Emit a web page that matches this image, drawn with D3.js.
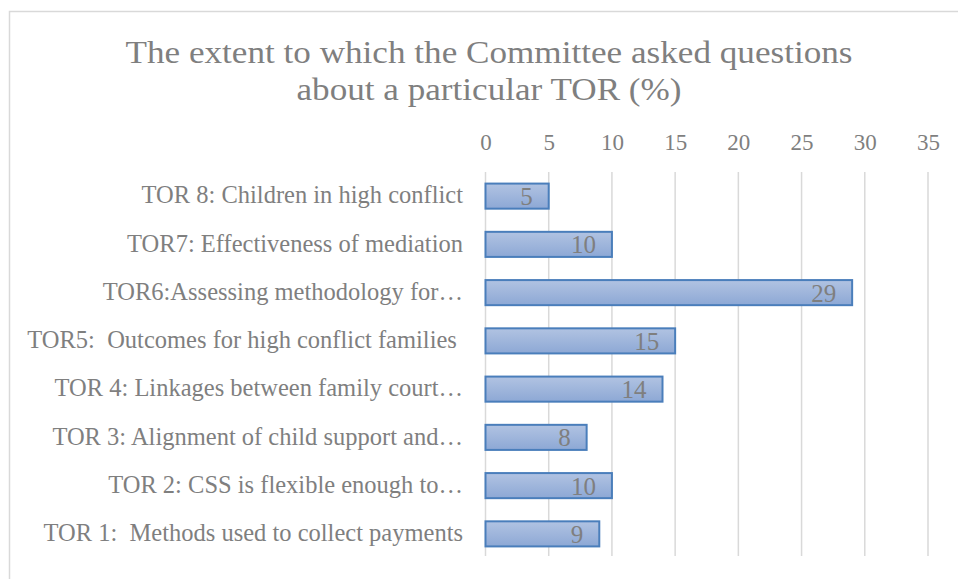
<!DOCTYPE html>
<html>
<head>
<meta charset="utf-8">
<script src="https://cdn.jsdelivr.net/npm/d3@7/dist/d3.min.js"></script>
<style>
  html, body { margin: 0; padding: 0; background: #fff; }
  svg { display: block; }
  text { font-family: "Liberation Serif", "DejaVu Serif", serif; fill: #7f7f7f; }
</style>
</head>
<body>
<svg id="chart" width="958" height="579"></svg>
<script>
// Categories listed top to bottom
const categories = [
  "TOR 8: Children in high conflict",
  "TOR7: Effectiveness of mediation",
  "TOR6:Assessing methodology for\u2026",
  "TOR5:  Outcomes for high conflict families ",
  "TOR 4: Linkages between family court\u2026",
  "TOR 3: Alignment of child support and\u2026",
  "TOR 2: CSS is flexible enough to\u2026",
  "TOR 1:  Methods used to collect payments"
];
const values = [5, 10, 29, 15, 14, 8, 10, 9];
const tickValues = [0, 5, 10, 15, 20, 25, 30, 35];
const titleLines = [
  "The extent to which the Committee asked questions",
  "about a particular TOR (%)"
];
const titleWidths = [727, 385];

const svg = d3.select("#chart");

// Outer chart frame
svg.append("rect")
  .attr("x", 9.5).attr("y", 11.5)
  .attr("width", 1000).attr("height", 1000)
  .attr("fill", "none").attr("stroke", "#d9d9d9").attr("stroke-width", 1.5);

// Bar gradient
const defs = svg.append("defs");
const grad = defs.append("linearGradient")
  .attr("id", "barFill").attr("x1", 0).attr("y1", 0).attr("x2", 0).attr("y2", 1);
grad.append("stop").attr("offset", "0%").attr("stop-color", "#b1c3e2");
grad.append("stop").attr("offset", "100%").attr("stop-color", "#8da8d5");

// Title (condensed serif)
svg.append("g").selectAll("text")
  .data(titleLines)
  .join("text")
  .attr("x", 489)
  .attr("y", (d, i) => 63 + i * 37)
  .attr("text-anchor", "middle")
  .attr("font-size", 32)
  .attr("textLength", (d, i) => titleWidths[i])
  .attr("lengthAdjust", "spacingAndGlyphs")
  .attr("fill", "#757575")
  .text(d => d);

const x = d3.scaleLinear().domain([0, 35]).range([485.5, 928]);
const y = d3.scaleBand().domain(categories).range([172, 558]).paddingInner(0.48).paddingOuter(0.24);

// Gridlines
svg.append("g").selectAll("line")
  .data(tickValues)
  .join("line")
  .attr("x1", d => x(d)).attr("x2", d => x(d))
  .attr("y1", 172).attr("y2", 556)
  .attr("stroke", "#d9d9d9").attr("stroke-width", 1.5);

// Top axis labels
const xAxis = svg.append("g")
  .attr("transform", "translate(0,150)")
  .call(d3.axisTop(x).tickValues(tickValues).tickSize(0).tickPadding(0));
xAxis.select(".domain").remove();
xAxis.selectAll("text")
  .attr("font-family", "Liberation Serif, DejaVu Serif, serif")
  .attr("font-size", 23)
  .attr("fill", "#7f7f7f");

// Category labels
const yAxis = svg.append("g")
  .attr("transform", "translate(463,0)")
  .call(d3.axisLeft(y).tickSize(0).tickPadding(0));
yAxis.select(".domain").remove();
yAxis.selectAll("text")
  .attr("font-family", "Liberation Serif, DejaVu Serif, serif")
  .attr("font-size", 24.5)
  .attr("dy", "0.3em")
  .attr("fill", "#7f7f7f")
  .style("white-space", "pre");

// Bars
const rows = categories.map((c, i) => ({ c, v: values[i] }));
svg.append("g").selectAll("rect")
  .data(rows)
  .join("rect")
  .attr("x", x(0))
  .attr("y", d => y(d.c))
  .attr("width", d => x(d.v) - x(0))
  .attr("height", y.bandwidth())
  .attr("fill", "url(#barFill)")
  .attr("stroke", "#4a7ebb")
  .attr("stroke-width", 2);

// Value labels inside bar ends
svg.append("g").selectAll("text")
  .data(rows)
  .join("text")
  .attr("x", d => x(d.v) - 16)
  .attr("y", d => y(d.c) + y.bandwidth() / 2)
  .attr("dy", "0.36em")
  .attr("text-anchor", "end")
  .attr("font-size", 25)
  .attr("fill", "#7f7f7f")
  .text(d => d.v);
</script>
</body>
</html>
